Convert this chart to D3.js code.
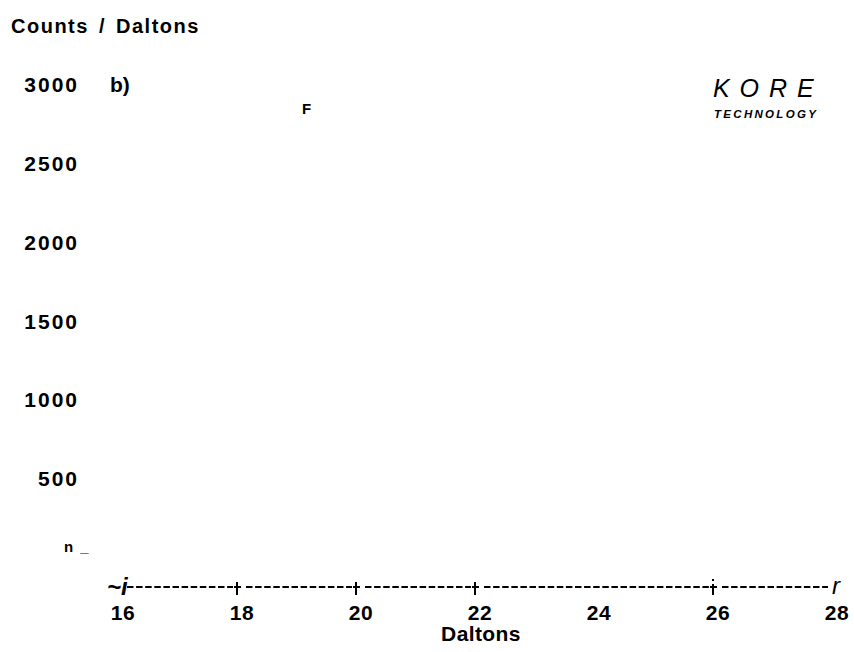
<!DOCTYPE html>
<html lang="en">
<head>
  <meta charset="UTF-8">
  <script src="https://d3js.org/d3.v7.min.js"></script>
  <title>Counts / Daltons</title>
  <style>
    body { margin: 0; background: #fff; }
    text { font-family: "Liberation Sans", Arial, sans-serif; fill: #000; }
  </style>
</head>
<body>
  <svg width="854" height="652"></svg>

  <script>
    // data
    var yTicks = [500, 1000, 1500, 2000, 2500, 3000]
    var yZeroLabel = "n _"
    var xTicks = [16, 18, 20, 22, 24, 26, 28]
    var axisMarks = [18, 20, 22, 26]      // places where the axis line has a tick glyph
    var peakLabels = [{ text: "F", mass: 19, count: 2850 }]

    var svg = d3.select("svg")

    var x = d3.scaleLinear().domain([16, 28]).range([123, 837])
    var y = d3.scaleLinear().domain([0, 3000]).range([557, 84])

    // title of y axis
    svg.append("text")
      .attr("x", 11).attr("y", 33)
      .attr("font-size", 20).attr("font-weight", "bold")
      .attr("letter-spacing", 1.5)
      .attr("word-spacing", 3)
      .text("Counts / Daltons")

    // y tick labels
    svg.append("g").selectAll("text")
      .data(yTicks)
      .enter().append("text")
      .attr("x", 79)
      .attr("y", function(d){ return y(d) + 8 })
      .attr("text-anchor", "end")
      .attr("font-size", 21).attr("font-weight", "bold")
      .attr("letter-spacing", 2)
      .text(function(d){ return d })

    svg.append("text")
      .attr("x", 64).attr("y", y(0) - 5)
      .attr("font-size", 15).attr("font-weight", "bold")
      .attr("letter-spacing", 1)
      .attr("word-spacing", 1)
      .text(yZeroLabel)

    // panel tag
    svg.append("text")
      .attr("x", 110).attr("y", y(3000) + 8)
      .attr("font-size", 21).attr("font-weight", "bold")
      .text("b)")

    // peak labels
    svg.append("g").selectAll("text")
      .data(peakLabels)
      .enter().append("text")
      .attr("x", function(d){ return x(d.mass) + 5 })
      .attr("y", function(d){ return y(d.count) + 6 })
      .attr("text-anchor", "middle")
      .attr("font-size", 15).attr("font-weight", "bold")
      .text(function(d){ return d.text })

    // logo
    svg.append("text")
      .attr("x", 713).attr("y", 97)
      .attr("font-size", 25).attr("font-style", "italic")
      .attr("letter-spacing", 1.5)
      .text("K O R E")
    svg.append("text")
      .attr("x", 714).attr("y", 118)
      .attr("font-size", 11.5).attr("font-style", "italic").attr("font-weight", "bold")
      .attr("letter-spacing", 2.3)
      .text("TECHNOLOGY")

    // x axis drawn as a dashed rule broken at each tick glyph
    var axisY = 587
    var stops = [16].concat(axisMarks).concat([28])
    var segs = d3.pairs(stops)
    svg.append("g").selectAll("line")
      .data(segs)
      .enter().append("line")
      .attr("x1", function(d){ return x(d[0]) + 4 })
      .attr("x2", function(d, i){ return i === segs.length - 1 ? x(d[1]) - 9 : x(d[1]) - 9 })
      .attr("y1", axisY).attr("y2", axisY)
      .attr("stroke", "#000").attr("stroke-width", 2)
      .attr("stroke-dasharray", "6.5,2.6")

    var marks = svg.append("g").selectAll("g")
      .data(axisMarks)
      .enter().append("g")
      .attr("transform", function(d){ return "translate(" + (x(d) - 5) + "," + axisY + ")" })
    marks.append("line")
      .attr("x1", 0).attr("x2", 0)
      .attr("y1", function(d){ return d === 26 ? -3 : -5 })
      .attr("y2", 8)
      .attr("stroke", "#000").attr("stroke-width", 2)
    marks.append("line")
      .attr("x1", -3).attr("x2", 4)
      .attr("y1", 0).attr("y2", 0)
      .attr("stroke", "#000").attr("stroke-width", 2)
    marks.filter(function(d){ return d === 26 })
      .append("rect")
      .attr("x", -1).attr("y", -8).attr("width", 2).attr("height", 2)

    svg.append("text")
      .attr("x", 107).attr("y", 595)
      .attr("font-size", 24).attr("font-style", "italic").attr("font-weight", "bold")
      .text("~i")
    svg.append("text")
      .attr("x", 832).attr("y", 594)
      .attr("font-size", 24).attr("font-style", "italic")
      .text("r")

    // x tick labels
    svg.append("g").selectAll("text")
      .data(xTicks)
      .enter().append("text")
      .attr("x", function(d){ return x(d) })
      .attr("y", 620)
      .attr("text-anchor", "middle")
      .attr("font-size", 21).attr("font-weight", "bold")
      .attr("letter-spacing", 0.5)
      .text(function(d){ return d })

    svg.append("text")
      .attr("x", 481).attr("y", 641)
      .attr("text-anchor", "middle")
      .attr("font-size", 21).attr("font-weight", "bold")
      .attr("letter-spacing", 0.4)
      .text("Daltons")
  </script>
</body>
</html>
